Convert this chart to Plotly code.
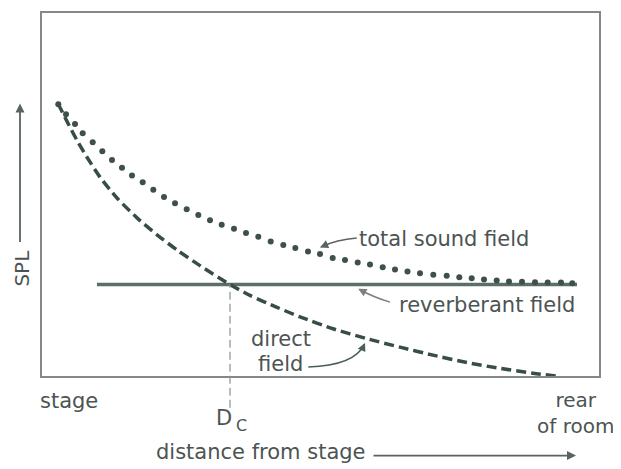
import plotly.graph_objects as go

# ---- data (units: distance from stage, SPL) ----
total_x = [17.3, 25, 34, 41.7, 51.7, 61.3, 71, 81, 91, 101.7, 112.3, 123, 134, 145.7, 157.3,
           169, 180.7, 193, 205, 217.3, 229.7, 242.3, 254.3, 267, 279, 291.7, 304, 316.7, 329,
           341.7, 354, 366.5, 379, 392.3, 405.7, 418.3, 430.7, 443, 455.7, 468, 481, 494, 506.7,
           520, 531.3]
total_y = [274.3, 264.3, 254.3, 245, 236, 227, 218.3, 210.3, 202.7, 195.7, 188.3, 181, 174.7,
           168.7, 163, 157.7, 153, 149, 144.7, 141, 136.3, 132.7, 129.7, 126.3, 123.7, 119.7,
           117.7, 115, 113, 110.3, 108, 106.2, 104.3, 102.7, 101.7, 100.3, 99.3, 98, 97, 96,
           95.7, 95.3, 95, 95, 94.3]

direct_x = [17, 26, 36, 46, 59, 76, 96, 116, 137, 159, 189, 209, 236, 259, 292, 326, 359, 392,
            426, 459, 492, 519]
direct_y = [275, 257, 238, 221, 201, 180, 160, 143, 127, 112, 93, 82, 70, 60.5, 48.5, 38.5,
            30, 22, 14.5, 8.7, 3.8, 0.5]

reverb_x = [56, 536]
reverb_y = [93, 93]

dc_x = 189          # critical distance
dc_level = 93       # level where direct = reverberant

x_range = [1, 558]
y_range = [1, 366]

label_total = "total sound field"
label_reverb = "reverberant field"
label_direct = ["direct", "field"]
label_stage = "stage"
label_rear = "rear<br>of room"
label_dist = "distance from stage"
label_spl = "SPL"

# ---- styles ----
FONT = "DejaVu Sans"
TXT = "#4c5452"
CURVE = "#374d48"
DOTS = "#3d504c"
REV = "#5d6e69"
BORDER = "#838986"


def pxf(v):  # data x -> paper x
    return (v - x_range[0]) / (x_range[1] - x_range[0])


def pyf(v):  # data y -> paper y
    return (v - y_range[0]) / (y_range[1] - y_range[0])


fig = go.Figure()

fig.add_trace(go.Scatter(x=reverb_x, y=reverb_y, mode="lines",
                         line=dict(color=REV, width=3.5), hoverinfo="skip"))
fig.add_trace(go.Scatter(x=direct_x, y=direct_y, mode="lines",
                         line=dict(color=CURVE, width=3.5, dash="10px,5px",
                                   shape="spline", smoothing=0.7),
                         hoverinfo="skip"))
fig.add_trace(go.Scatter(x=total_x, y=total_y, mode="markers",
                         marker=dict(color=DOTS, size=6, line=dict(width=0)), hoverinfo="skip"))

# vertical dashed line at Dc (x in data, y in paper so it passes the axis)
fig.add_shape(type="line", xref="x", yref="paper", x0=dc_x, x1=dc_x,
              y0=pyf(-31), y1=pyf(dc_level),
              line=dict(color="#8e9290", width=1.2, dash="8px,4px"))

# curved leader lines
fig.add_shape(type="path", xref="x", yref="y",
              path="M 315.7,139.7 Q 295.7,138 280,130.8",
              line=dict(color="#5a6360", width=1.5))
fig.add_shape(type="path", xref="x", yref="y",
              path="M 349,75.3 Q 332.3,80.3 318.5,88",
              line=dict(color="#7a817e", width=1.5))
fig.add_shape(type="path", xref="x", yref="y",
              path="M 267.3,10 C 299,11 317,19 323.5,33",
              line=dict(color="#4b5f5a", width=1.5))

anns = []


def arrowhead(x, y, ax, ay, color):
    anns.append(dict(x=x, y=y, ax=ax, ay=ay, xref="x", yref="y", axref="x", ayref="y",
                     text="", showarrow=True, arrowhead=2, arrowsize=1.1, arrowwidth=1.5,
                     arrowcolor=color))


arrowhead(279, 130.3, 287, 133.8, "#5a6360")
arrowhead(317.3, 88.7, 324.5, 84.8, "#7a817e")
arrowhead(324, 34.3, 320.5, 26.5, "#4b5f5a")

# axis arrows
anns.append(dict(x=535, y=pyf(-79), ax=-204, ay=0, xref="x", yref="paper",
                 text="", showarrow=True, arrowhead=2, arrowsize=1, arrowwidth=1.8,
                 arrowcolor="#5a6360"))
anns.append(dict(x=pxf(-21), y=275, ax=0, ay=140, xref="paper", yref="y",
                 text="", showarrow=True, arrowhead=2, arrowsize=1, arrowwidth=1.8,
                 arrowcolor="#5a6360"))


def txt(t, x, y, size=21, xanchor="center", angle=0):
    anns.append(dict(text=t, x=pxf(x), y=pyf(y), xref="paper", yref="paper", showarrow=False,
                     xanchor=xanchor, yanchor="middle", textangle=angle, align="center",
                     font=dict(family=FONT, size=size, color=TXT)))


txt(label_total, 316, 139, xanchor="left")
txt(label_reverb, 356, 72, xanchor="left")
txt(label_direct[0], 240, 38)
txt(label_direct[1], 239, 13)
txt(label_stage, 27.5, -24)
txt("D", 183, -41)
txt("C", 200.5, -48.5, size=16)
txt(label_rear, 534, -36.5, size=20)
txt(label_dist, 113, -75, xanchor="left")
txt(label_spl, -19, 109, size=20, angle=-90)

# page body has an 8px margin: figure is shifted accordingly
fig.update_layout(
    width=613, height=461,
    margin=dict(l=34, r=22, t=3, b=93),
    paper_bgcolor="white", plot_bgcolor="white",
    showlegend=False,
    annotations=anns,
    xaxis=dict(range=x_range, showgrid=False, zeroline=False, showticklabels=False,
               ticks="", showline=True, mirror=True, linecolor=BORDER, linewidth=2),
    yaxis=dict(range=y_range, showgrid=False, zeroline=False, showticklabels=False,
               ticks="", showline=True, mirror=True, linecolor=BORDER, linewidth=2),
)

fig.write_html("out.html")
